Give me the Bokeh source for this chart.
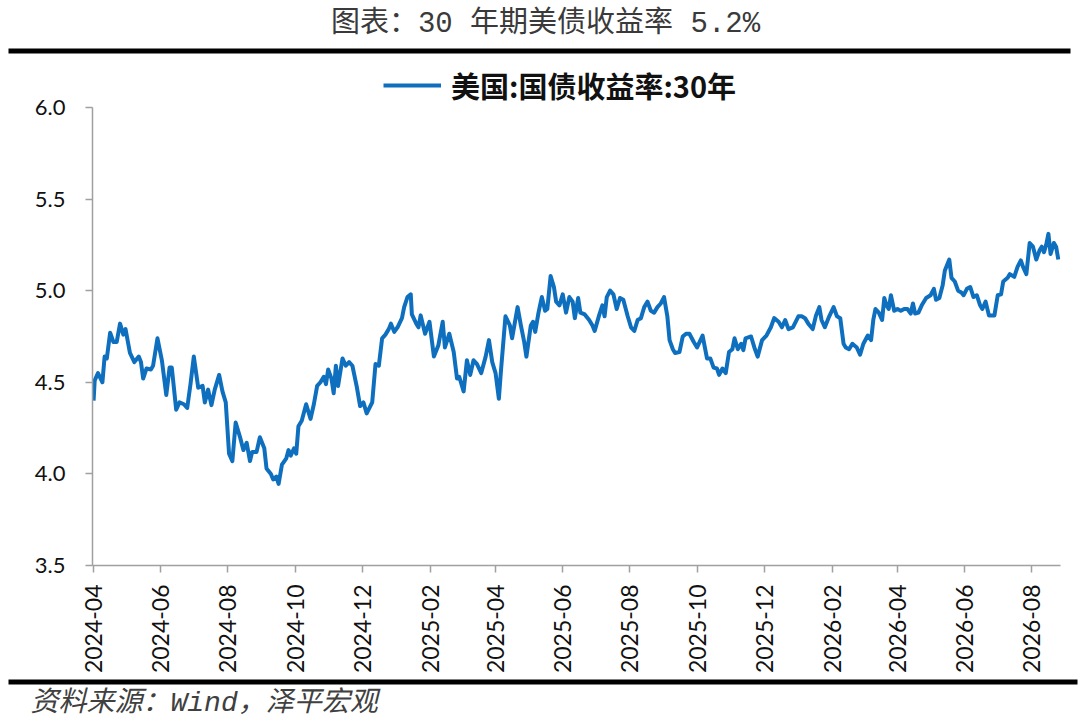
import math
import pandas as pd
from bokeh.plotting import figure
from bokeh.layouts import column
from bokeh.models import (Range1d, MonthsTicker, FixedTicker, DatetimeTickFormatter,
                          NumeralTickFormatter, Legend, LegendItem, Label, BoxAnnotation)
from bokeh.embed import file_html
from bokeh.resources import INLINE

title_text = "图表：30 年期美债收益率 5.2%"
source_text = "资料来源：Wind，泽平宏观"
series_name = "美国:国债收益率:30年"

start_date = "2024-04-01"
end_date = "2026-08-27"

# days after 2024-04-01
day_offsets = [
    0, 1, 4, 8, 10, 12, 15, 18, 21, 24, 27, 29, 33, 37, 41, 43, 45, 48, 52, 54,
    58, 62, 66, 69, 71, 75, 78, 82, 85, 88, 91, 95, 99, 101, 104, 107, 110, 114, 117, 120,
    123, 126, 129, 133, 136, 139, 142, 144, 148, 151, 155, 157, 161, 163, 166, 168, 171, 175, 177, 179,
    182, 184, 186, 189, 193, 197,
    200, 203, 206, 209, 211, 213, 216, 218, 220, 222, 226, 229, 232, 235, 239, 242, 245, 248, 253, 256,
    259, 262, 265, 268, 270, 273, 276, 280, 282, 285, 288, 289, 293, 295, 297, 301, 305, 309, 313, 317,
    319, 323, 327, 330, 332, 336, 339, 342, 345, 348, 352, 356, 359, 362, 365, 368, 370, 374, 378, 380,
    385, 388, 391, 393, 397, 399, 401, 404, 407, 410, 412, 415,
    418, 420, 423, 426, 429, 432, 435, 437, 440, 442, 446, 450, 453, 455, 459, 462, 464, 466, 469, 472,
    475, 478, 481, 485, 488, 491, 494, 497, 500, 503, 506, 509, 512, 515, 518, 521, 523, 526, 528, 532,
    535, 538, 541, 545, 548, 553, 557, 560, 563, 566, 568, 571, 574, 577, 580, 582, 585, 588, 590, 592,
    597, 600, 603, 607, 611, 615, 618, 622, 625, 628, 631, 635, 640, 643,
    646, 649, 653, 656, 659, 661, 664, 668, 672, 675, 678, 681, 683, 686, 689, 693, 696, 699, 703, 706,
    708, 710, 713, 716, 718, 720, 722, 724, 727, 730, 733, 736, 739, 742, 744, 746, 749, 752, 756, 760,
    763, 765, 768, 771, 773, 775, 777, 779, 782, 785, 788, 790, 793, 796, 799, 802, 805, 807, 810, 813,
    815, 818, 821, 824, 826, 830, 832, 836, 839, 842, 844, 847, 850, 853, 856, 859, 861, 863, 865, 867,
    869, 872, 874, 876,
]

yields = [
    4.40, 4.51, 4.55, 4.50, 4.64, 4.63, 4.77, 4.72, 4.72, 4.82, 4.76, 4.79, 4.66, 4.61, 4.64, 4.61, 4.52, 4.575, 4.57, 4.59,
    4.74, 4.62, 4.43, 4.58, 4.58, 4.35, 4.39, 4.38, 4.36, 4.49, 4.64, 4.47, 4.48, 4.39, 4.46, 4.375, 4.46, 4.54, 4.45, 4.39,
    4.11, 4.07, 4.28, 4.20, 4.13, 4.17, 4.07, 4.12, 4.12, 4.20, 4.14, 4.03, 4.00, 3.97, 3.985, 3.945, 4.05, 4.085, 4.13, 4.10,
    4.14, 4.11, 4.26, 4.29, 4.38, 4.30,
    4.38, 4.48, 4.50, 4.53, 4.49, 4.57, 4.52, 4.44, 4.59, 4.48, 4.63, 4.59, 4.61, 4.59, 4.475, 4.37, 4.39, 4.33, 4.39, 4.60,
    4.59, 4.74, 4.76, 4.79, 4.82, 4.775, 4.80, 4.85, 4.91, 4.965, 4.98, 4.87, 4.82, 4.80, 4.865, 4.765, 4.83, 4.64, 4.70, 4.83,
    4.69, 4.765, 4.665, 4.52, 4.53, 4.45, 4.62, 4.54, 4.62, 4.60, 4.55, 4.64, 4.73, 4.61, 4.55, 4.41, 4.57, 4.86, 4.81, 4.74,
    4.91, 4.81, 4.72, 4.64, 4.81, 4.83, 4.775, 4.88, 4.965, 4.89, 4.90, 5.08,
    5.02, 4.94, 4.92, 4.98, 4.88, 4.965, 4.94, 4.85, 4.96, 4.88, 4.87, 4.84, 4.81, 4.78, 4.865, 4.92, 4.86, 4.965, 5.00, 4.98,
    4.90, 4.96, 4.95, 4.86, 4.80, 4.78, 4.84, 4.85, 4.91, 4.94, 4.89, 4.88, 4.91, 4.93, 4.965, 4.86, 4.73, 4.68, 4.66, 4.665,
    4.75, 4.765, 4.765, 4.72, 4.69, 4.755, 4.63, 4.63, 4.58, 4.575, 4.54, 4.575, 4.55, 4.665, 4.68, 4.74, 4.68, 4.71, 4.675, 4.74,
    4.75, 4.69, 4.64, 4.73, 4.755, 4.80, 4.85, 4.83, 4.80, 4.84, 4.79, 4.80, 4.86, 4.86,
    4.85, 4.82, 4.79, 4.865, 4.91, 4.84, 4.80, 4.86, 4.91, 4.86, 4.85, 4.71, 4.69, 4.68, 4.71, 4.69, 4.65, 4.71, 4.755, 4.73,
    4.84, 4.90, 4.88, 4.84, 4.96, 4.92, 4.90, 4.975, 4.89, 4.90, 4.89, 4.90, 4.90, 4.875, 4.93, 4.875, 4.88, 4.92, 4.96, 4.975,
    5.01, 4.95, 4.96, 5.03, 5.11, 5.14, 5.17, 5.07, 5.05, 5.00, 4.99, 4.975, 5.01, 5.02, 4.965, 4.975, 4.92, 4.90, 4.94, 4.865,
    4.865, 4.865, 4.975, 4.98, 5.05, 5.07, 5.09, 5.075, 5.13, 5.165, 5.13, 5.09, 5.26, 5.24, 5.17, 5.22, 5.24, 5.21, 5.25, 5.31,
    5.20, 5.26, 5.24, 5.17,
]

y_ticks = [3.5, 4.0, 4.5, 5.0, 5.5, 6.0]
y_min, y_max = 3.5, 6.0
# BokehJS month indices are 0-based: 1 -> Feb, 3 -> Apr, ...
tick_months = [1, 3, 5, 7, 9, 11]

dates = pd.Timestamp(start_date) + pd.to_timedelta(day_offsets, unit="D")

W = 1080
HEAD_H, MAIN_H, FOOT_H = 56, 620, 48
MONO_CJK = "'Liberation Mono', 'Noto Sans CJK SC'"


def blank_panel(height):
    f = figure(width=W, height=height, output_backend="svg", toolbar_location=None,
               x_range=Range1d(0, W), y_range=Range1d(height, 0),
               x_axis_location=None, y_axis_location=None,
               min_border=0, min_border_left=0, min_border_right=0,
               min_border_top=0, min_border_bottom=0)
    f.frame_align = False
    f.outline_line_color = None
    f.grid.visible = False
    f.background_fill_color = "white"
    f.border_fill_color = "white"
    return f


# ---- header: title + thick rule
head = blank_panel(HEAD_H)
head.add_layout(Label(x=545, y=24, text=title_text, text_align="center", text_baseline="middle",
                      text_font=MONO_CJK, text_font_size="29px", text_color="#3a3a3a"))
head.add_layout(BoxAnnotation(left=8, right=1070, top=48, bottom=53,
                              fill_color="black", fill_alpha=1, line_color=None))

# ---- main chart
FL, FR, FT, FB = 92, 20, 4, 110
FH = MAIN_H - FT - FB
px_per_unit = 183.6
y_top = y_min + FH / px_per_unit   # extra headroom above 6.0 holds the legend

p = figure(width=W, height=MAIN_H, x_axis_type="datetime", output_backend="svg",
           toolbar_location=None,
           x_range=Range1d(pd.Timestamp(start_date) - pd.Timedelta(days=1), pd.Timestamp(end_date)),
           y_range=Range1d(y_min, y_top),
           min_border_left=FL, min_border_right=FR, min_border_top=FT, min_border_bottom=FB)
p.frame_align = False
p.outline_line_color = None
p.grid.visible = False
p.background_fill_color = "white"
p.border_fill_color = "white"

r = p.line(dates, yields, line_color="#0f6fbf", line_width=4, line_join="round")

axis_color = "#a0a0a0"
for ax in (p.xaxis[0], p.yaxis[0]):
    ax.axis_line_color = axis_color
    ax.axis_line_width = 1.5
    ax.major_tick_line_color = axis_color
    ax.major_tick_line_width = 1.5
    ax.minor_tick_line_color = None
    ax.major_tick_in = 0
    ax.major_label_text_font = "Lato"
    ax.major_label_text_color = "#111111"

p.yaxis.ticker = FixedTicker(ticks=y_ticks)
p.yaxis.bounds = (y_min, y_max)
p.yaxis.formatter = NumeralTickFormatter(format="0.0")
p.yaxis.major_tick_out = 7
p.yaxis.major_label_standoff = 20
p.yaxis.major_label_text_font_size = "22px"

p.xaxis.ticker = MonthsTicker(months=tick_months)
p.xaxis.formatter = DatetimeTickFormatter(years="%Y-%m", months="%Y-%m", days="%Y-%m")
p.xaxis.major_label_orientation = math.pi / 2
p.xaxis.major_tick_out = 7
p.xaxis.major_label_standoff = 12
p.xaxis.major_label_text_font_size = "23px"

legend = Legend(items=[LegendItem(label=series_name, renderers=[r])],
                orientation="horizontal", location=(291, FH - 47),
                border_line_color=None, background_fill_alpha=0,
                label_text_font="Noto Sans CJK SC", label_text_font_style="bold",
                label_text_font_size="29px", label_text_color="#111111",
                glyph_width=58, label_standoff=10, padding=4, margin=0)
p.add_layout(legend)

# ---- footer: thick rule + source
foot = blank_panel(FOOT_H)
foot.add_layout(BoxAnnotation(left=8, right=1077, top=3, bottom=8,
                              fill_color="black", fill_alpha=1, line_color=None))
foot.add_layout(Label(x=30, y=27, text=source_text, text_align="left", text_baseline="middle",
                      text_font=MONO_CJK, text_font_style="italic",
                      text_font_size="28px", text_color="#404040"))

layout = column(head, p, foot, spacing=0)
open("out.html", "w").write(file_html(layout, INLINE))
